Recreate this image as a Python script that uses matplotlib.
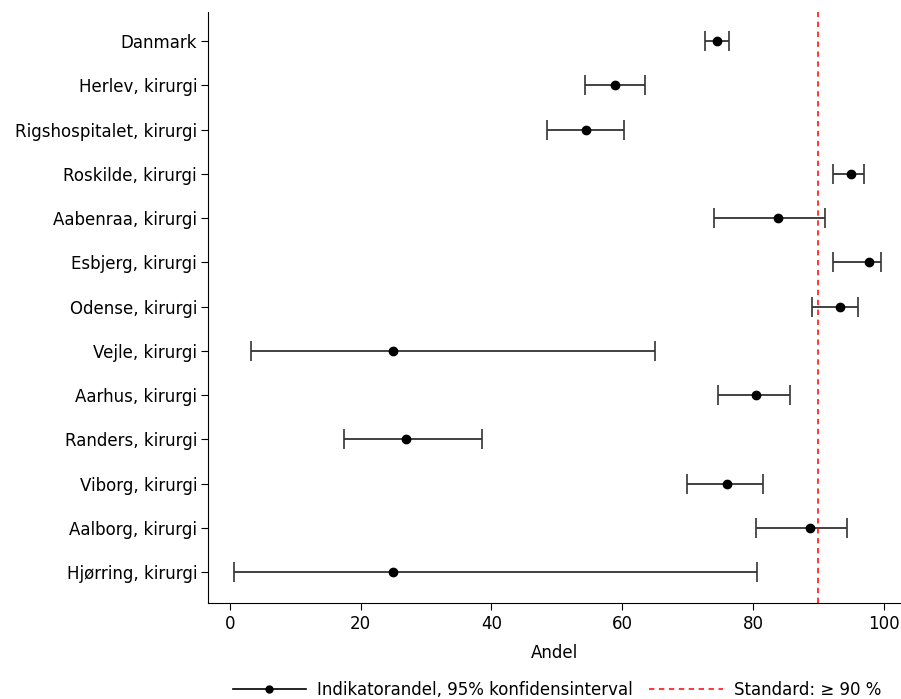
import matplotlib.pyplot as plt
from matplotlib.lines import Line2D

# Indikatorandel med 95% konfidensinterval
afdelinger = ['Danmark', 'Herlev, kirurgi', 'Rigshospitalet, kirurgi',
              'Roskilde, kirurgi', 'Aabenraa, kirurgi', 'Esbjerg, kirurgi',
              'Odense, kirurgi', 'Vejle, kirurgi', 'Aarhus, kirurgi',
              'Randers, kirurgi', 'Viborg, kirurgi', 'Aalborg, kirurgi',
              'Hjørring, kirurgi']
andel = [74.5, 58.9, 54.5, 95.0, 83.8, 97.8, 93.3, 25.0, 80.5, 27.0, 76.1, 88.8, 25.0]
ki_nedre = [72.6, 54.3, 48.5, 92.2, 74.0, 92.2, 89.0, 3.2, 74.6, 17.4, 69.9, 80.5, 0.6]
ki_oevre = [76.3, 63.5, 60.3, 97.0, 91.0, 99.6, 96.1, 65.1, 85.7, 38.6, 81.5, 94.4, 80.6]
standard = 90

n = len(afdelinger)
ypos = list(range(n - 1, -1, -1))
err_lo = [a - l for a, l in zip(andel, ki_nedre)]
err_hi = [h - a for a, h in zip(andel, ki_oevre)]

fig = plt.figure(figsize=(9.01, 6.99), dpi=100)
ax = fig.add_axes([0.231, 0.137, 0.768, 0.846])

ax.errorbar(andel, ypos, xerr=[err_lo, err_hi], fmt='o', color='black',
            ecolor='#333333', elinewidth=1.3, capsize=7, capthick=1.2,
            markersize=6)
ax.axvline(standard, color='red', linestyle='--', linewidth=1.1, dashes=(3.5, 3))

ax.set_yticks(ypos)
ax.set_yticklabels(afdelinger, fontsize=12)
ax.set_xticks([0, 20, 40, 60, 80, 100])
ax.tick_params(axis='x', labelsize=12, length=5)
ax.tick_params(axis='y', length=5, pad=3)
ax.set_xlim(-3.3, 102.5)
ax.set_ylim(-0.7, n - 1 + 0.66)
ax.set_xlabel('Andel', fontsize=12, labelpad=8)

for s in ['top', 'right']:
    ax.spines[s].set_visible(False)

handles = [Line2D([0], [0], color='black', marker='o', markersize=5, linewidth=1.2),
           Line2D([0], [0], color='red', linestyle='--', linewidth=1.1, dashes=(3.5, 3))]
labels = ['Indikatorandel, 95% konfidensinterval', 'Standard: \u2265 90 %']
fig.legend(handles, labels, loc='center', bbox_to_anchor=(0.618, 0.013),
           ncol=2, frameon=False, fontsize=12, handlelength=4.4,
           handletextpad=0.65, columnspacing=1.0)

fig.savefig('out.png', dpi=100)
